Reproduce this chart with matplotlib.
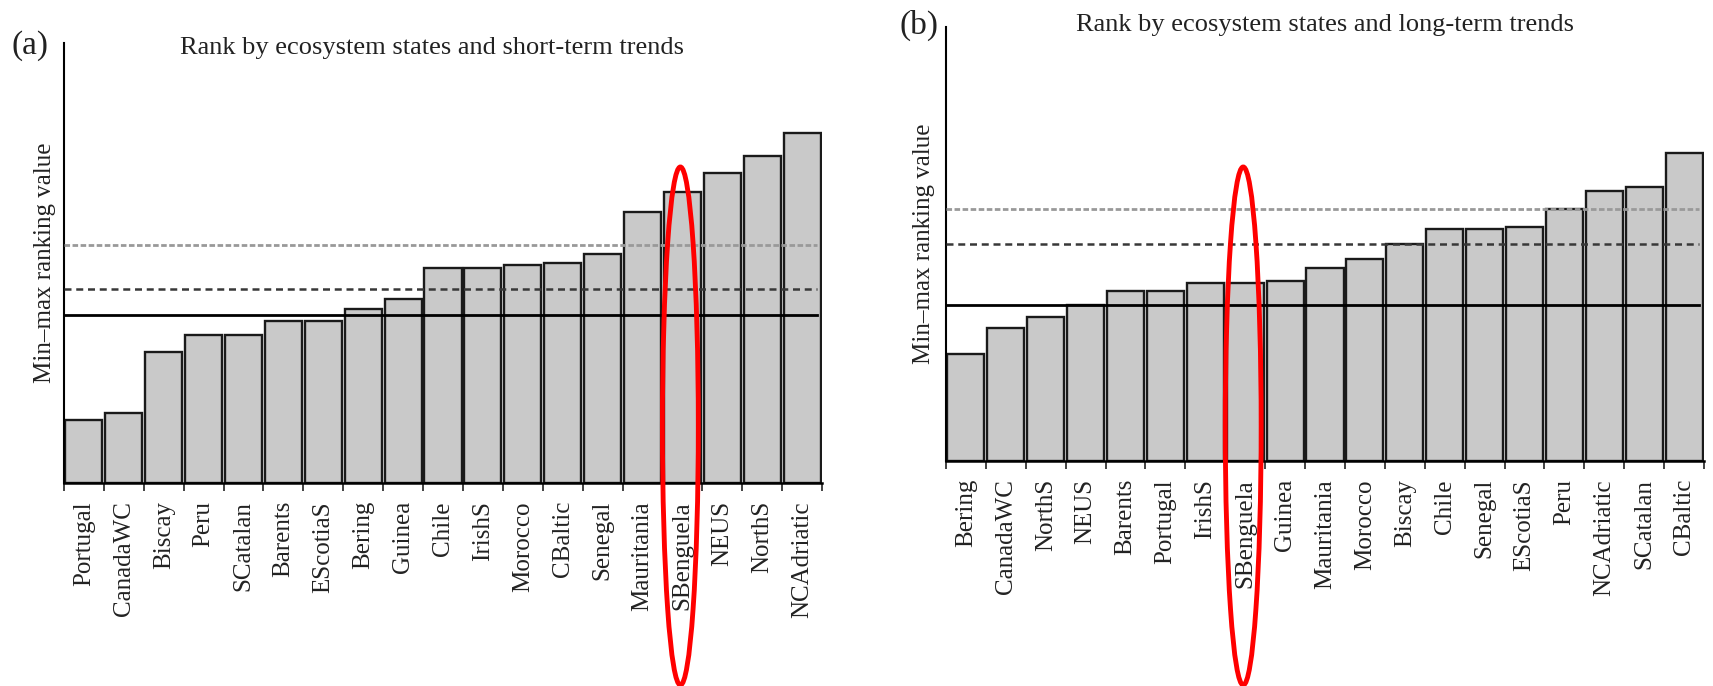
import numpy as np
import matplotlib.pyplot as plt
from matplotlib.patches import Ellipse
import matplotlib.transforms as mtransforms

plt.rcParams['font.family'] = ['Liberation Serif', 'DejaVu Serif']

# (a) short-term trends
regions_a = ["Portugal", "CanadaWC", "Biscay", "Peru", "SCatalan", "Barents",
             "EScotiaS", "Bering", "Guinea", "Chile", "IrishS", "Morocco",
             "CBaltic", "Senegal", "Mauritania", "SBenguela", "NEUS", "NorthS",
             "NCAdriatic"]
values_a = [0.143, 0.159, 0.298, 0.336, 0.336, 0.368, 0.368, 0.395, 0.418,
            0.489, 0.489, 0.495, 0.500, 0.520, 0.616, 0.661, 0.705, 0.743, 0.795]
lines_a = [0.541, 0.441, 0.382]   # gray dotted, dashed, solid

# (b) long-term trends
regions_b = ["Bering", "CanadaWC", "NorthS", "NEUS", "Barents", "Portugal",
             "IrishS", "SBenguela", "Guinea", "Mauritania", "Morocco", "Biscay",
             "Chile", "Senegal", "EScotiaS", "Peru", "NCAdriatic", "SCatalan",
             "CBaltic"]
values_b = [0.247, 0.306, 0.332, 0.359, 0.392, 0.392, 0.410, 0.410, 0.415,
            0.445, 0.465, 0.500, 0.535, 0.535, 0.539, 0.581, 0.622, 0.631, 0.710]
lines_b = [0.581, 0.500, 0.359]

highlight = "SBenguela"

fig = plt.figure(figsize=(17.13, 6.86), dpi=100)
W, H = 1713, 686


def panel(rect, regions, values, lines, title, tag, title_x, title_y, tag_xy, ylab_x):
    ax = fig.add_axes(rect)
    n = len(regions)
    x = np.arange(n) + 0.5
    ax.bar(x, values, width=0.93, color='#c9c9c9', edgecolor='#1a1a1a',
           linewidth=1.7, zorder=2)
    ax.axhline(lines[0], xmin=0, xmax=0.993, color='#999999', lw=2.0,
               linestyle=(0, (2.0, 0.9)), zorder=3)
    ax.axhline(lines[1], xmin=0, xmax=0.993, color='#383838', lw=1.8,
               linestyle=(0, (2.8, 1.9)), zorder=3)
    ax.axhline(lines[2], xmin=0, xmax=0.993, color='black', lw=2.0, zorder=3)
    ax.set_xlim(0, n)
    ax.set_ylim(0, 1)
    for s in ['top', 'right']:
        ax.spines[s].set_visible(False)
    ax.spines['left'].set_linewidth(1.5)
    ax.spines['bottom'].set_linewidth(1.8)
    ax.set_yticks([])
    ax.set_xticks(np.arange(n + 1))
    ax.set_xticklabels([])
    ax.tick_params(axis='x', which='major', length=6, width=1.2, color='#222222')
    ax.set_xticks(x, minor=True)
    ax.set_xticklabels(regions, minor=True, rotation=90, fontsize=18,
                       color='#222222')
    ax.tick_params(axis='x', which='minor', length=0, pad=13)
    ax.text(ylab_x, 0.5, "Min\u2013max ranking value", transform=ax.transAxes,
            rotation=90, ha='center', va='center', fontsize=18, color='#222222')
    fig.text(title_x / W, 1 - title_y / H, title, ha='center', va='center',
             fontsize=19, color='#222222')
    fig.text(tag_xy[0] / W, 1 - tag_xy[1] / H, tag, ha='center', va='center',
             fontsize=24, color='#222222')
    # red highlight ellipse around SBenguela
    i = regions.index(highlight)
    tr = mtransforms.blended_transform_factory(ax.transData, fig.transFigure)
    ell = Ellipse((x[i] - 0.05, 1 - 426 / H), width=0.9, height=518 / H,
                  transform=tr, fill=False, edgecolor='red', lw=3.5,
                  clip_on=False, zorder=10)
    fig.add_artist(ell)
    return ax


panel([64 / W, 1 - 483 / H, 758 / W, 440 / H], regions_a, values_a, lines_a,
      "Rank by ecosystem states and short-term trends", "(a)",
      432, 48, (30, 46), -0.025)
panel([946 / W, 1 - 461 / H, 758 / W, 434 / H], regions_b, values_b, lines_b,
      "Rank by ecosystem states and long-term trends", "(b)",
      1325, 25, (919, 25), -0.029)

fig.savefig("out.png", dpi=100)
